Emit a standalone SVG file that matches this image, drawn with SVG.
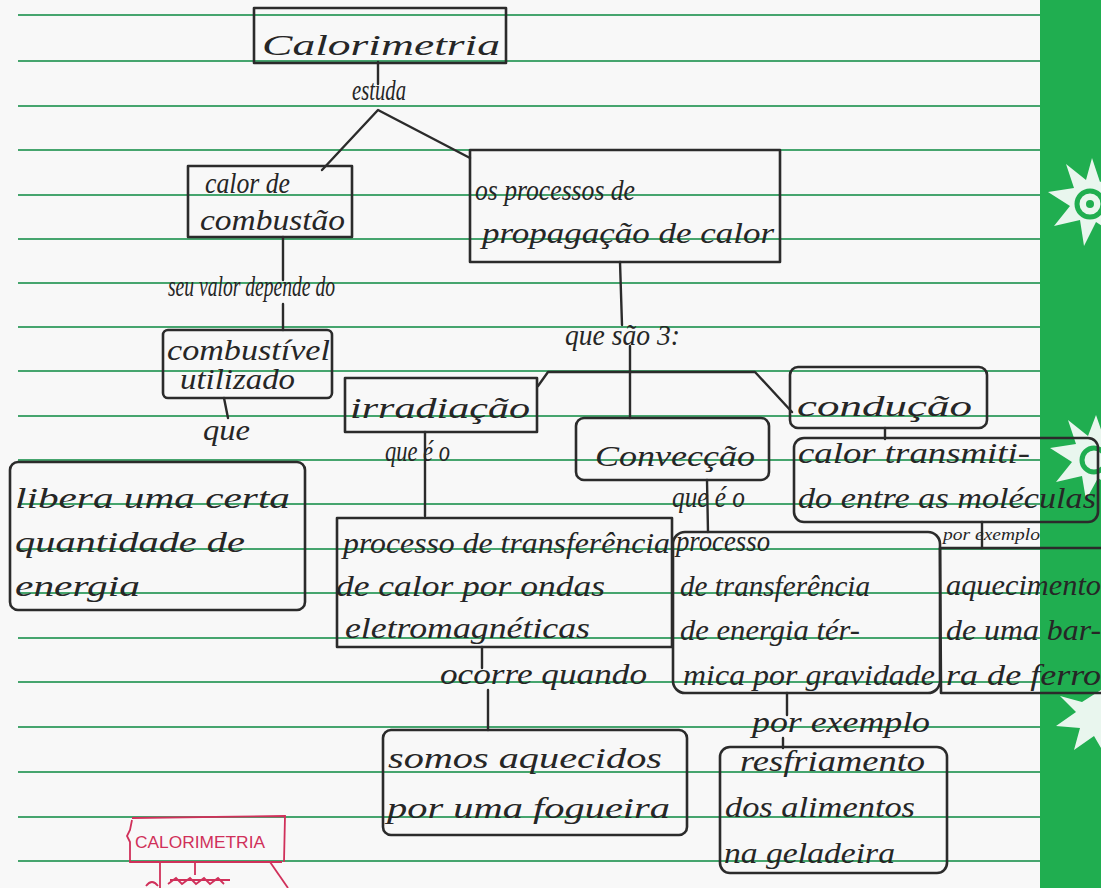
<svg xmlns="http://www.w3.org/2000/svg" width="1101" height="888" viewBox="0 0 1101 888">
  <style>
    .rule { stroke: #46a56e; stroke-width: 2; }
    .box { fill: none; stroke: #2b2b2b; stroke-width: 2.6; stroke-linejoin: round; }
    .link { fill: none; stroke: #2b2b2b; stroke-width: 2.4; stroke-linecap: round; stroke-linejoin: round; }
    .hand { font-family: "Liberation Serif", "DejaVu Serif", serif; font-style: italic; fill: #262626; font-size: 29px; }
    .small { font-size: 17px; }
    .red { stroke: #d0305a; fill: none; stroke-width: 1.8; }
    .redtxt { font-family: "Liberation Sans", "DejaVu Sans", sans-serif; fill: #d0305a; font-size: 16px; }
    .star { fill: #e9f6ee; }
  </style>

  <!-- paper -->
  <rect x="0" y="0" width="1101" height="888" fill="#f8f8f8"/>

  <!-- ruled lines -->
  <g id="rules">
    <line class="rule" x1="18" y1="15" x2="1040" y2="15"/>
    <line class="rule" x1="18" y1="61" x2="1040" y2="61"/>
    <line class="rule" x1="18" y1="106" x2="1040" y2="106"/>
    <line class="rule" x1="18" y1="150" x2="1040" y2="150"/>
    <line class="rule" x1="18" y1="195" x2="1040" y2="195"/>
    <line class="rule" x1="18" y1="239" x2="1040" y2="239"/>
    <line class="rule" x1="18" y1="283" x2="1040" y2="283"/>
    <line class="rule" x1="18" y1="327" x2="1040" y2="327"/>
    <line class="rule" x1="18" y1="371" x2="1040" y2="371"/>
    <line class="rule" x1="18" y1="416" x2="1040" y2="416"/>
    <line class="rule" x1="18" y1="460" x2="1040" y2="460"/>
    <line class="rule" x1="18" y1="504" x2="1040" y2="504"/>
    <line class="rule" x1="18" y1="549" x2="1040" y2="549"/>
    <line class="rule" x1="18" y1="593" x2="1040" y2="593"/>
    <line class="rule" x1="18" y1="638" x2="1040" y2="638"/>
    <line class="rule" x1="18" y1="682" x2="1040" y2="682"/>
    <line class="rule" x1="18" y1="727" x2="1040" y2="727"/>
    <line class="rule" x1="18" y1="772" x2="1040" y2="772"/>
    <line class="rule" x1="18" y1="817" x2="1040" y2="817"/>
    <line class="rule" x1="18" y1="861" x2="1040" y2="861"/>
  </g>

  <!-- green margin band with stars -->
  <g id="band">
    <rect x="1040" y="0" width="61" height="888" fill="#20ae50"/>
    <polygon class="star" points="1092,158 1100,182 1124,170 1112,193 1136,204 1110,210 1118,236 1096,222 1084,246 1080,220 1054,226 1070,206 1048,192 1074,188 1066,164 1086,180"/>
    <circle cx="1090" cy="204" r="13" fill="none" stroke="#20ae50" stroke-width="5"/>
    <circle cx="1090" cy="204" r="4" fill="#20ae50"/>
    <polygon class="star" points="1096,415 1104,438 1128,428 1116,450 1138,462 1112,466 1120,492 1098,478 1086,500 1082,476 1056,482 1072,462 1050,448 1076,444 1068,420 1088,436"/>
    <circle cx="1094" cy="460" r="12" fill="none" stroke="#20ae50" stroke-width="5"/>
    <polygon class="star" points="1101,690 1082,702 1060,696 1076,712 1056,726 1080,728 1074,750 1094,736 1101,748"/>
  </g>

  <!-- connectors -->
  <g id="connectors">
    <line class="link" x1="378" y1="62" x2="378" y2="84"/>
    <polyline class="link" points="322,170 378,110 470,158"/>
    <line class="link" x1="283" y1="237" x2="283" y2="280"/>
    <line class="link" x1="283" y1="304" x2="283" y2="330"/>
    <line class="link" x1="224" y1="398" x2="228" y2="418"/>
    <line class="link" x1="620" y1="262" x2="622" y2="325"/>
    <line class="link" x1="630" y1="346" x2="630" y2="418"/>
    <polyline class="link" points="538,386 548,372 755,372 792,412"/>
    <line class="link" x1="425" y1="432" x2="425" y2="516"/>
    <line class="link" x1="707" y1="480" x2="708" y2="532"/>
    <line class="link" x1="885" y1="428" x2="885" y2="439"/>
    <line class="link" x1="982" y1="522" x2="982" y2="548"/>
    <line class="link" x1="482" y1="647" x2="482" y2="668"/>
    <line class="link" x1="488" y1="690" x2="488" y2="730" stroke-width="5"/>
    <line class="link" x1="787" y1="693" x2="787" y2="715"/>
    <line class="link" x1="783" y1="738" x2="783" y2="748"/>
  </g>

  <g id="calorimetria">
    <rect class="box" x="254" y="8" width="252" height="55"/>
    <text class="hand" x="262" y="55" font-size="46" textLength="238" lengthAdjust="spacingAndGlyphs">Calorimetria</text>
  </g>
  <text class="hand" x="352" y="100" font-size="25" textLength="54" lengthAdjust="spacingAndGlyphs">estuda</text>

  <g id="calor-combustao">
    <rect class="box" x="188" y="166" width="164" height="71"/>
    <text class="hand" x="205" y="193" textLength="85" lengthAdjust="spacingAndGlyphs">calor de</text>
    <text class="hand" x="200" y="230" textLength="145" lengthAdjust="spacingAndGlyphs">combustão</text>
  </g>

  <g id="processos">
    <rect class="box" x="470" y="150" width="310" height="112"/>
    <text class="hand" x="475" y="200" textLength="160" lengthAdjust="spacingAndGlyphs">os processos de</text>
    <text class="hand" x="482" y="243" textLength="292" lengthAdjust="spacingAndGlyphs">propagação de calor</text>
  </g>

  <text class="hand" x="168" y="296" font-size="25" textLength="167" lengthAdjust="spacingAndGlyphs">seu valor depende do</text>

  <g id="combustivel">
    <rect class="box" x="163" y="330" width="169" height="68" rx="5"/>
    <text class="hand" x="167" y="360" font-size="22" textLength="163" lengthAdjust="spacingAndGlyphs">combustível</text>
    <text class="hand" x="180" y="389" font-size="21" textLength="115" lengthAdjust="spacingAndGlyphs">utilizado</text>
  </g>
  <text class="hand" x="203" y="440" font-size="26" textLength="47" lengthAdjust="spacingAndGlyphs">que</text>

  <g id="libera">
    <rect class="box" x="10" y="462" width="295" height="148" rx="8"/>
    <text class="hand" x="15" y="508" textLength="275" lengthAdjust="spacingAndGlyphs">libera uma certa</text>
    <text class="hand" x="15" y="552" textLength="230" lengthAdjust="spacingAndGlyphs">quantidade de</text>
    <text class="hand" x="15" y="596" textLength="125" lengthAdjust="spacingAndGlyphs">energia</text>
  </g>

  <text class="hand" x="565" y="345" textLength="115" lengthAdjust="spacingAndGlyphs">que são 3:</text>

  <g id="irradiacao">
    <rect class="box" x="345" y="378" width="192" height="54"/>
    <text class="hand" x="350" y="418" font-size="31" textLength="180" lengthAdjust="spacingAndGlyphs">irradiação</text>
  </g>
  <text class="hand" x="385" y="461" font-size="26" textLength="65" lengthAdjust="spacingAndGlyphs">que é o</text>

  <g id="conveccao">
    <rect class="box" x="576" y="418" width="193" height="62" rx="8"/>
    <text class="hand" x="595" y="466" font-size="32" textLength="160" lengthAdjust="spacingAndGlyphs">Convecção</text>
  </g>

  <g id="conducao">
    <rect class="box" x="790" y="367" width="197" height="61" rx="8"/>
    <text class="hand" x="797" y="416" font-size="32" textLength="175" lengthAdjust="spacingAndGlyphs">condução</text>
  </g>

  <g id="calor-transmitido">
    <rect class="box" x="794" y="438" width="304" height="84" rx="10"/>
    <text class="hand" x="798" y="463" textLength="232" lengthAdjust="spacingAndGlyphs">calor transmiti-</text>
    <text class="hand" x="798" y="508" textLength="298" lengthAdjust="spacingAndGlyphs">do entre as moléculas</text>
  </g>

  <text class="hand" x="672" y="507" font-size="26" textLength="73" lengthAdjust="spacingAndGlyphs">que é o</text>
  <text class="hand small" x="943" y="540" textLength="97" lengthAdjust="spacingAndGlyphs">por exemplo</text>

  <g id="irradiacao-processo">
    <rect class="box" x="337" y="518" width="335" height="129"/>
    <text class="hand" x="343" y="553" textLength="327" lengthAdjust="spacingAndGlyphs">processo de transferência</text>
    <text class="hand" x="336" y="596" textLength="269" lengthAdjust="spacingAndGlyphs">de calor por ondas</text>
    <text class="hand" x="345" y="638" textLength="245" lengthAdjust="spacingAndGlyphs">eletromagnéticas</text>
  </g>

  <g id="conveccao-processo">
    <rect class="box" x="673" y="532" width="267" height="161" rx="12"/>
    <text class="hand" x="676" y="551" textLength="94" lengthAdjust="spacingAndGlyphs">processo</text>
    <text class="hand" x="680" y="596" textLength="190" lengthAdjust="spacingAndGlyphs">de transferência</text>
    <text class="hand" x="680" y="640" textLength="180" lengthAdjust="spacingAndGlyphs">de energia tér-</text>
    <text class="hand" x="683" y="685" textLength="252" lengthAdjust="spacingAndGlyphs">mica por gravidade</text>
  </g>

  <g id="aquecimento">
    <polyline class="box" points="1101,548 940,548 941,693 1101,693"/>
    <text class="hand" x="946" y="595" textLength="155" lengthAdjust="spacingAndGlyphs">aquecimento</text>
    <text class="hand" x="946" y="640" textLength="155" lengthAdjust="spacingAndGlyphs">de uma bar-</text>
    <text class="hand" x="946" y="685" textLength="155" lengthAdjust="spacingAndGlyphs">ra de ferro</text>
  </g>

  <text class="hand" x="440" y="684" textLength="207" lengthAdjust="spacingAndGlyphs">ocorre quando</text>

  <g id="fogueira">
    <rect class="box" x="383" y="730" width="304" height="105" rx="8"/>
    <text class="hand" x="388" y="768" textLength="274" lengthAdjust="spacingAndGlyphs">somos aquecidos</text>
    <text class="hand" x="387" y="818" textLength="283" lengthAdjust="spacingAndGlyphs">por uma fogueira</text>
  </g>

  <text class="hand" x="752" y="732" font-size="26" textLength="178" lengthAdjust="spacingAndGlyphs">por exemplo</text>

  <g id="resfriamento">
    <rect class="box" x="720" y="747" width="227" height="126" rx="10"/>
    <text class="hand" x="740" y="771" textLength="185" lengthAdjust="spacingAndGlyphs">resfriamento</text>
    <text class="hand" x="725" y="817" textLength="190" lengthAdjust="spacingAndGlyphs">dos alimentos</text>
    <text class="hand" x="724" y="863" textLength="171" lengthAdjust="spacingAndGlyphs">na geladeira</text>
  </g>

  <!-- small red sketch in the lower corner -->
  <g id="rascunho">
    <polyline class="red" points="132,820 130,830 127,836 130,842 130,862 282,862"/>
    <polyline class="red" points="132,818 285,816 284,862"/>
    <text class="redtxt" x="135" y="848" textLength="130" lengthAdjust="spacingAndGlyphs">CALORIMETRIA</text>
    <line class="red" x1="160" y1="862" x2="160" y2="888"/>
    <line class="red" x1="195" y1="862" x2="195" y2="875"/>
    <line class="red" x1="270" y1="862" x2="288" y2="888"/>
    <path class="red" d="M146,886 q6,-8 12,0 M168,884 l8,-6 l6,6 l8,-6 l6,6 l8,-6 l6,6 l8,-6 l6,6 M170,880 h60"/>
  </g>
</svg>
